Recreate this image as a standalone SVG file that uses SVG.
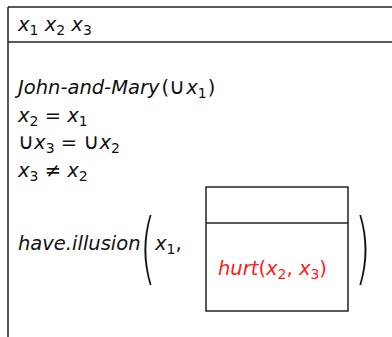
<svg xmlns="http://www.w3.org/2000/svg" width="392" height="337" viewBox="0 0 392 337">
<style>
.t{font-family:"DejaVu Sans","Noto Sans",sans-serif;font-size:19.5px;fill:#111}
.i{font-style:italic}
.s{font-size:14px}
.u{font-size:22px}
.r{fill:#ff1a1a}
.p{font-family:"DejaVu Sans",sans-serif;font-size:20px;font-weight:200;fill:#111}
.ln{stroke:#222;stroke-width:1.5;fill:none}
</style>
<rect width="392" height="337" fill="#fff"/>
<g id="outer">
<line class="ln" x1="8" y1="7" x2="392" y2="7"/>
<line class="ln" x1="8" y1="7" x2="8" y2="337"/>
<line class="ln" x1="8" y1="42" x2="392" y2="42"/>
<text class="t" x="18" y="31"><tspan class="i">x</tspan><tspan class="s" dy="3.5">1</tspan><tspan dy="-3.5"> </tspan><tspan class="i">x</tspan><tspan class="s" dy="3.5">2</tspan><tspan dy="-3.5"> </tspan><tspan class="i">x</tspan><tspan class="s" dy="3.5">3</tspan></text>
<text class="t" x="18" y="94"><tspan class="i">John-and-Mary</tspan><tspan dx="2">(</tspan><tspan class="u">∪</tspan><tspan class="i" dx="1">x</tspan><tspan class="s" dy="3.5">1</tspan><tspan dy="-3.5" dx="1">)</tspan></text>
<text class="t" x="18" y="122"><tspan class="i">x</tspan><tspan class="s" dy="3.5">2</tspan><tspan dy="-3.5"> = </tspan><tspan class="i">x</tspan><tspan class="s" dy="3.5">1</tspan></text>
<text class="t" x="18" y="149"><tspan class="u">∪</tspan><tspan class="i">x</tspan><tspan class="s" dy="3.5">3</tspan><tspan dy="-3.5"> = </tspan><tspan class="u">∪</tspan><tspan class="i">x</tspan><tspan class="s" dy="3.5">2</tspan></text>
<text class="t" x="18" y="177"><tspan class="i">x</tspan><tspan class="s" dy="3.5">3</tspan><tspan dy="-3.5"> ≠ </tspan><tspan class="i">x</tspan><tspan class="s" dy="3.5">2</tspan></text>
<text class="t i" x="18" y="250">have.illusion</text>
<text class="p" x="0" y="0" transform="translate(140,275) scale(2,3.9)">(</text>
<text class="t" x="155" y="250"><tspan class="i">x</tspan><tspan class="s" dy="3.5">1</tspan><tspan dy="-3.5">,</tspan></text>
<text class="p" x="0" y="0" transform="translate(355,275) scale(2,3.9)">)</text>
</g>
<g id="inner">
<rect class="ln" x="206" y="187" width="142" height="124"/>
<line class="ln" x1="206" y1="223" x2="348" y2="223"/>
<text class="t r" x="218" y="275"><tspan class="i">hurt</tspan>(<tspan class="i">x</tspan><tspan class="s" dy="3.5">2</tspan><tspan dy="-3.5">, </tspan><tspan class="i">x</tspan><tspan class="s" dy="3.5">3</tspan><tspan dy="-3.5">)</tspan></text>
</g>
</svg>
